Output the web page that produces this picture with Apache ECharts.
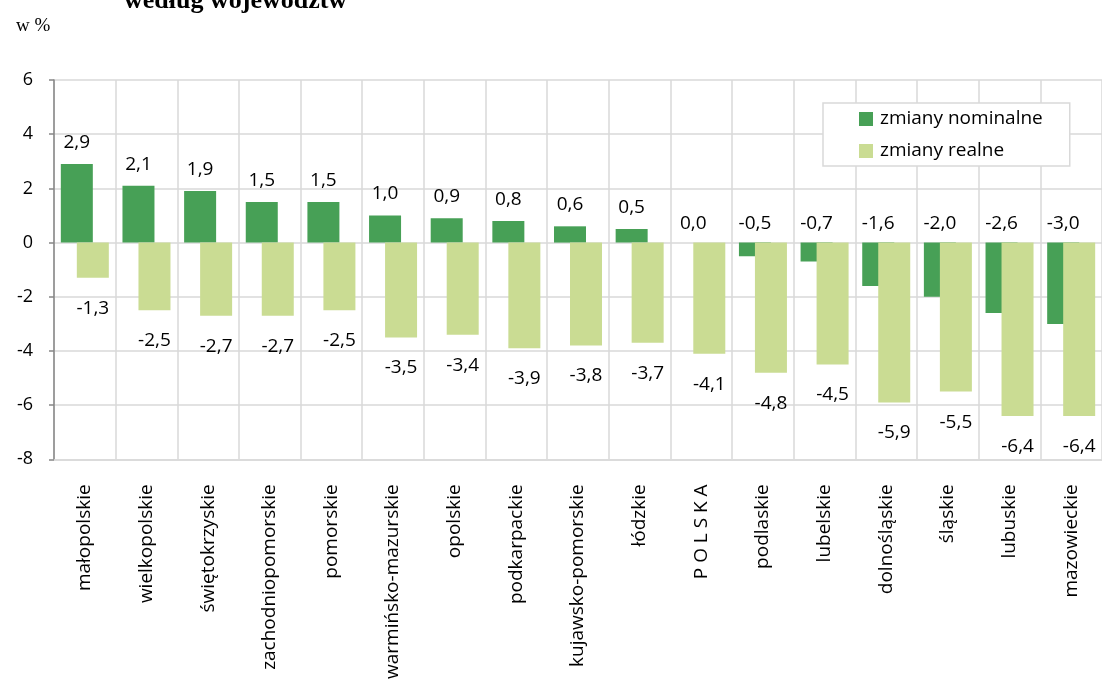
<!DOCTYPE html>
<html>
<head>
<meta charset="utf-8">
<script src="https://cdn.jsdelivr.net/npm/echarts@6/dist/echarts.min.js"></script>
<style>
  html, body { margin: 0; padding: 0; background: #ffffff; }
  #chart { width: 1102px; height: 682px; }
</style>
</head>
<body>
<div id="chart"></div>
<script>
// Regions (województwa) ordered by nominal change
const categories = [
  'małopolskie', 'wielkopolskie', 'świętokrzyskie', 'zachodniopomorskie', 'pomorskie',
  'warmińsko-mazurskie', 'opolskie', 'podkarpackie', 'kujawsko-pomorskie', 'łódzkie',
  'P O L S K A', 'podlaskie', 'lubelskie', 'dolnośląskie', 'śląskie', 'lubuskie', 'mazowieckie'
];
// Nominal changes, %
const nominalValues = [2.9, 2.1, 1.9, 1.5, 1.5, 1.0, 0.9, 0.8, 0.6, 0.5, 0.0, -0.5, -0.7, -1.6, -2.0, -2.6, -3.0];
// Real changes, %
const realValues = [-1.3, -2.5, -2.7, -2.7, -2.5, -3.5, -3.4, -3.9, -3.8, -3.7, -4.1, -4.8, -4.5, -5.9, -5.5, -6.4, -6.4];
const seriesNames = ['zmiany nominalne', 'zmiany realne'];
const yTicks = { min: -8, max: 6, interval: 2 };

const fmt = v => v.toFixed(1).replace('.', ',');
const labelFont = { color: '#000000', fontFamily: 'Open Sans', fontSize: 19 };

const chart = echarts.init(document.getElementById('chart'), null, { renderer: 'canvas' });
chart.setOption({
  animation: false,
  backgroundColor: '#ffffff',
  title: [
    {
      text: 'według województw',
      left: 119, top: -17,
      textStyle: { fontFamily: 'Liberation Serif', fontWeight: 'bold', fontSize: 26, color: '#000000' }
    },
    {
      text: 'w %',
      left: 11, top: 12,
      textStyle: { fontFamily: 'Liberation Serif', fontWeight: 'normal', fontSize: 19, color: '#000000' }
    }
  ],
  legend: {
    orient: 'vertical',
    left: 823, top: 103,
    padding: [6, 27, 5, 36],
    itemGap: 12,
    itemWidth: 14, itemHeight: 14,
    borderColor: '#d9d9d9', borderWidth: 1.5,
    backgroundColor: '#ffffff',
    icon: 'rect',
    textStyle: { fontFamily: 'Open Sans', fontSize: 19, lineHeight: 20, color: '#000000', padding: [0, 0, 0, 2] },
    data: seriesNames
  },
  grid: { left: 54, top: 80, width: 1054, height: 383, containLabel: false },
  xAxis: {
    type: 'category',
    data: categories,
    position: 'bottom',
    axisLine: { onZero: false, lineStyle: { color: '#d9d9d9', width: 1.5 } },
    axisTick: { show: false },
    splitLine: { show: true, lineStyle: { color: '#d9d9d9', width: 1.5 } },
    axisLabel: {
      rotate: 90, margin: 25, interval: 0,
      fontFamily: 'Open Sans', fontSize: 19, color: '#000000'
    }
  },
  yAxis: {
    type: 'value',
    min: yTicks.min, max: yTicks.max, interval: yTicks.interval,
    axisLine: { show: true, lineStyle: { color: '#868686', width: 1.5 } },
    axisTick: { show: true, length: 5, lineStyle: { color: '#868686', width: 1.5 } },
    splitLine: { show: true, lineStyle: { color: '#d9d9d9', width: 1.5 } },
    axisLabel: { margin: 21, fontFamily: 'Open Sans', fontSize: 18, color: '#000000' }
  },
  series: [
    {
      name: seriesNames[0],
      type: 'bar',
      barWidth: 32,
      barGap: '-50%',
      itemStyle: { color: '#47a056' },
      // labels sit above the zero line for non-positive bars
      data: nominalValues.map(v => ({
        value: v,
        label: { position: v <= 0 ? 'insideTop' : 'top', offset: v <= 0 ? [0, -40] : [0, 0] }
      })),
      label: {
        show: true, distance: 12,
        formatter: p => fmt(p.value),
        ...labelFont
      },
      z: 2
    },
    {
      name: seriesNames[1],
      type: 'bar',
      barWidth: 32,
      itemStyle: { color: '#cadc93' },
      data: realValues,
      label: {
        show: true, position: 'bottom', distance: 21,
        formatter: p => fmt(p.value),
        ...labelFont
      },
      z: 3
    }
  ]
});
</script>
</body>
</html>
